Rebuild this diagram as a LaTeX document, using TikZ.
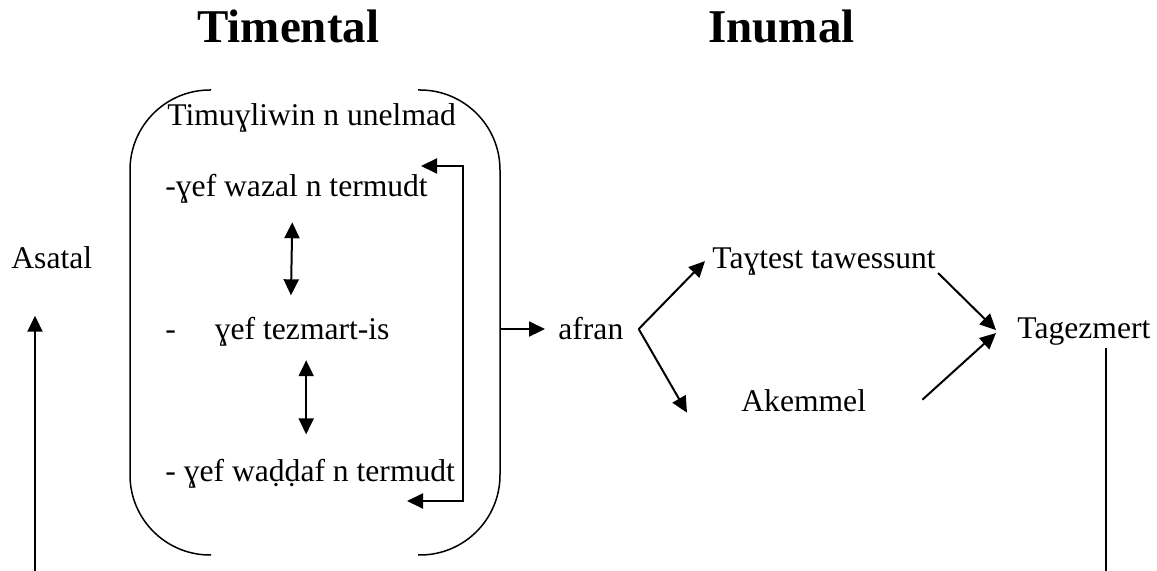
\documentclass[tikz,border=0pt]{standalone}
\usepackage{fontspec}
\setmainfont{Liberation Serif}
\usetikzlibrary{arrows.meta}

\newcommand\flowtextstyle{\fontsize{15.8}{18}\selectfont}
\newcommand\flowtitlestyle{\fontsize{23.5}{28}\selectfont\bfseries}
\newcommand\flowtip{Triangle[length=8pt,width=7.5pt]}
\tikzset{
  flowitem/.style={anchor=base west, inner sep=0pt, font=\flowtextstyle},
  flowtitle/.style={anchor=base west, inner sep=0pt, font=\flowtitlestyle},
  flowarrow/.style={line width=1pt, -{\flowtip}},
  flowdouble/.style={line width=1pt, {\flowtip}-{\flowtip}},
  flowbracket/.style={line width=.75pt, rounded corners=40pt},
}

\begin{document}
\begin{tikzpicture}[x=.5pt, y=-.5pt]
  \useasboundingbox (0,0) rectangle (1157,571);
  % titres
  \node[flowtitle] (timental) at (197,43) {Timental};
  \node[flowtitle] (inumal) at (708,43) {Inumal};
  % colonne gauche
  \node[flowitem] (asatal) at (11,269) {Asatal};
  \coordinate (bottomL) at (35,571);
  \draw[flowarrow, shorten >=23pt] (bottomL) -- (bottomL |- asatal.south);
  % la boite
  \draw[flowbracket] (211,90) -- (130,90) -- (130,555) -- (211,555);
  \draw[flowbracket] (418,90) -- (500,90) -- (500,555) -- (418,555);
  \coordinate (boxE) at (500,322);
  \node[flowitem] (unelmad) at (167,126) {Timuɣliwin n unelmad};
  \node[flowitem] (wazal) at (165,197) {-ɣef wazal n termudt};
  \node[flowitem] (tezmart) at (165,340) {-\hspace{19.5pt}ɣef tezmart-is};
  \node[flowitem] (waddaf) at (165,482) {- ɣef waḍḍaf n termudt};
  \draw[flowdouble, shorten <=9pt, shorten >=11pt]
    ([xshift=-2pt]wazal.south) -- ([xshift=-3pt]wazal.south |- tezmart.north);
  \draw[flowdouble, shorten <=6.5pt, shorten >=12.5pt]
    ([xshift=-2pt]waddaf.north |- tezmart.south) -- ([xshift=-2pt]waddaf.north);
  \coordinate (loopTop) at (421,166);
  \coordinate (loopBot) at (407,501);
  \draw[flowdouble] (loopTop) -- ++(42,0) |- (loopBot);
  % inumal
  \node[flowitem] (afran) at (558,340) {afran};
  \node[flowitem] (tayt) at (712,269) {Taɣtest tawessunt};
  \node[flowitem] (akemmel) at (741,412) {Akemmel};
  \node[flowitem] (tagezmert) at (1017,339) {Tagezmert};
  \draw[flowarrow] (boxE |- afran.west) -- ([xshift=-6.5pt]afran.west);
  \coordinate (fork) at ([xshift=7.5pt]afran.east);
  \draw[flowarrow] (fork) -- ([xshift=-3.5pt,yshift=.5pt]tayt.west);
  \draw[flowarrow] (fork) -- ([xshift=-27pt,yshift=-5.75pt]akemmel.west);
  \draw[flowarrow] ([xshift=1pt,yshift=-5.5pt]tayt.east) -- ([xshift=-10.5pt,yshift=1pt]tagezmert.west);
  \draw[flowarrow] ([xshift=28pt,yshift=.75pt]akemmel.east) -- ([xshift=-10.5pt,yshift=-.5pt]tagezmert.west);
  \coordinate (bottomR) at (1106,571);
  \draw[line width=.75pt] ([yshift=-1pt]tagezmert.south -| bottomR) -- (bottomR);
\end{tikzpicture}
\end{document}
